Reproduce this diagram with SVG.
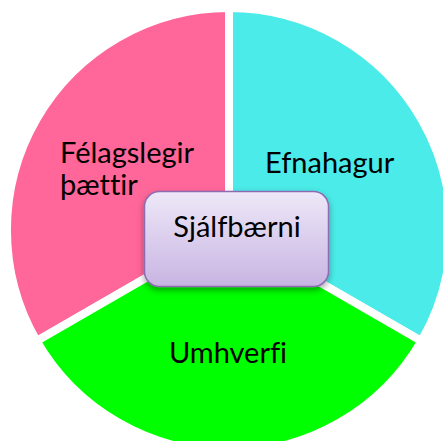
<svg xmlns="http://www.w3.org/2000/svg" width="443" height="441" viewBox="0 0 443 441">
<defs>
<linearGradient id="boxGrad" x1="0" y1="0" x2="0" y2="1">
<stop offset="0" stop-color="#EEE8F8"/>
<stop offset="1" stop-color="#C8B4E2"/>
</linearGradient>
<filter id="shadow" x="-20%" y="-20%" width="140%" height="150%">
<feDropShadow dx="0" dy="3" stdDeviation="3" flood-color="#000" flood-opacity="0.35"/>
</filter>
</defs>
<style>
.sector { stroke: #FFFFFF; stroke-width: 8; stroke-linejoin: miter; }
.lbl { font-family: Lato, "Open Sans", sans-serif; font-size: 29px; fill: #000; font-variant-ligatures: none; font-feature-settings: "liga" 0, "clig" 0; }
</style>
<rect width="443" height="441" fill="#FFFFFF"/>
<g id="felagslegir">
<path class="sector" fill="#FF6699" d="M229,230 L229,8 A222,222 0 0 0 36.7,341 Z"/>
<text class="lbl" x="60" y="163">Félagslegir</text>
<text class="lbl" x="60" y="195">þættir</text>
</g>
<g id="efnahagur">
<path class="sector" fill="#4AEBE8" d="M229,230 L229,8 A222,222 0 0 1 421.3,341 Z"/>
<text class="lbl" x="265" y="173">Efnahagur</text>
</g>
<g id="umhverfi">
<path class="sector" fill="#00FF00" d="M229,230 L36.7,341 A222,222 0 0 0 421.3,341 Z"/>
<text class="lbl" x="228" y="363" text-anchor="middle">Umhverfi</text>
</g>
<g id="connectors"></g>
<g id="sjalfbaerni">
<rect x="144.5" y="191.5" width="184" height="95" rx="15" ry="15" fill="url(#boxGrad)" stroke="#8E6BB0" stroke-width="1.5" filter="url(#shadow)"/>
<text class="lbl" x="237" y="237" text-anchor="middle">Sjálfbærni</text>
</g>
</svg>
